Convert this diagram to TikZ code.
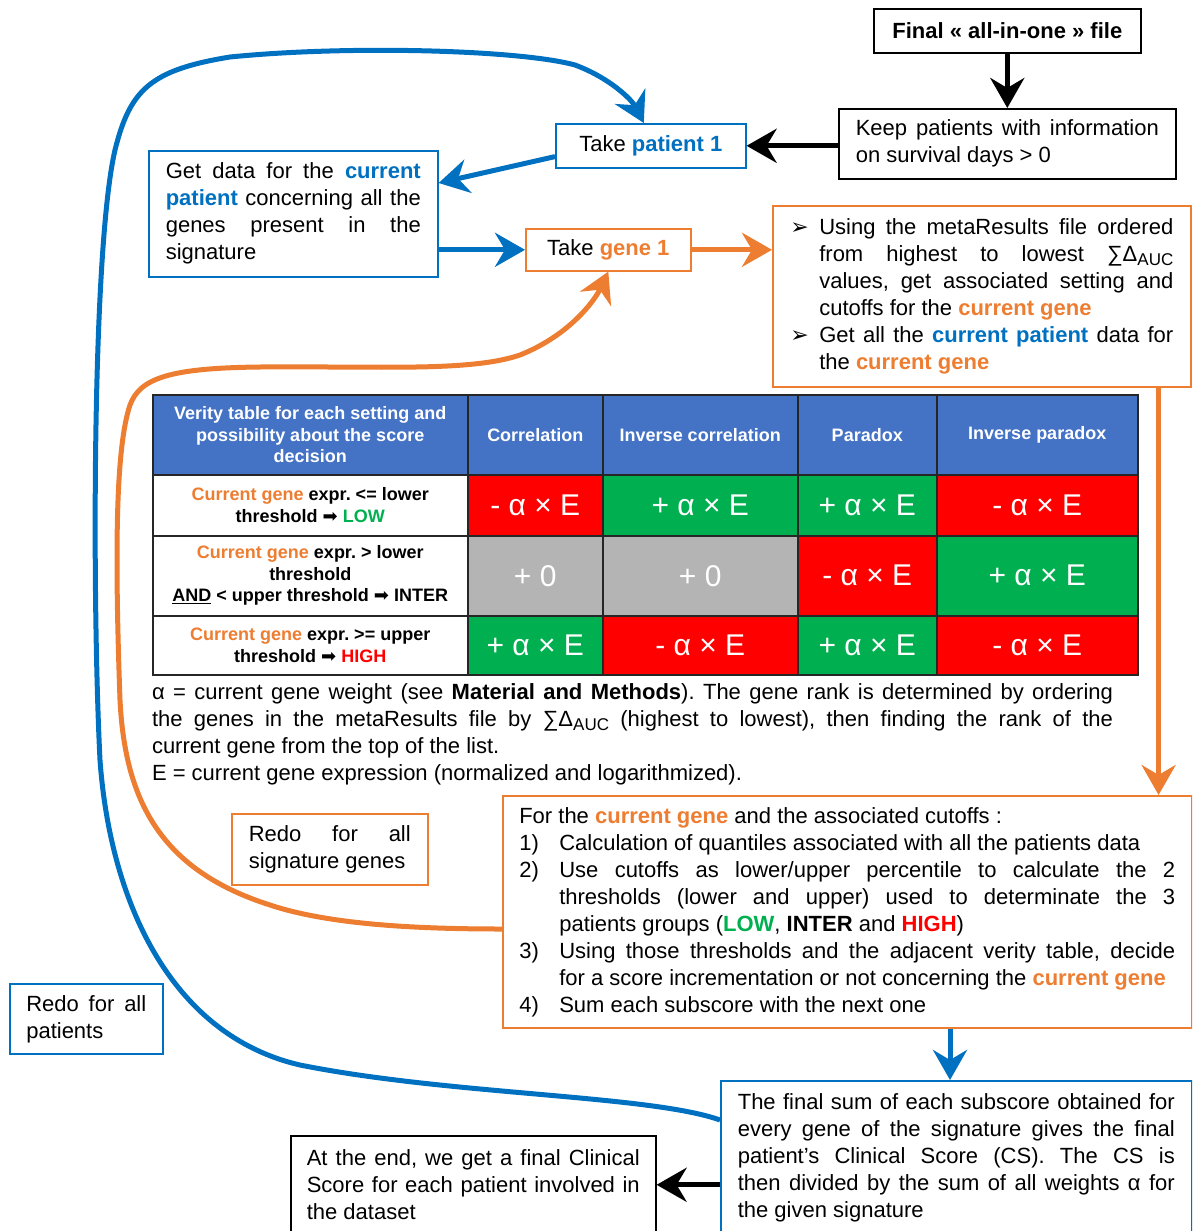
\documentclass[tikz,border=0pt]{standalone}
\usepackage{fontspec}
\setmainfont{Liberation Sans}
\newfontfamily\dingfont{DejaVu Sans}
\usetikzlibrary{arrows.meta,calc}
\frenchspacing

\definecolor{boxblue}{RGB}{0,112,192}
\definecolor{boxorange}{RGB}{237,125,49}
\definecolor{headblue}{RGB}{68,114,196}
\definecolor{tabred}{RGB}{255,0,0}
\definecolor{tabgreen}{RGB}{0,176,80}
\definecolor{tabgrey}{RGB}{180,180,180}

\newcommand\bodyfont{\fontsize{22}{27}\selectfont}
\newcommand\tabfont{\fontsize{18}{21.5}\selectfont\bfseries}
\newcommand\cellfont{\fontsize{30}{36}\selectfont}
\newcommand\curpat[1]{\textcolor{boxblue}{\textbf{#1}}}
\newcommand\curgene[1]{\textcolor{boxorange}{\textbf{#1}}}
\newcommand\auc{\raisebox{-4pt}{\fontsize{17}{17}\selectfont AUC}}
\newcommand\numitem[1]{\hangindent=40pt\hangafter=1\noindent\makebox[40pt][l]{#1}}
\newcommand\bulitem{\hangindent=29pt\hangafter=1\noindent\makebox[29pt][l]{\dingfont ➢}}
\newcommand\thenarrow{{\dingfont\mdseries ➡}}

\tikzset{
  box/.style={draw, line width=1.6pt, anchor=north west, inner ysep=0pt, font=\bodyfont},
  bluebox/.style={box, draw=boxblue},
  orangebox/.style={box, draw=boxorange},
  blackbox/.style={box, draw=black},
  cell/.style={draw=black!85, line width=1.5pt, anchor=north west, inner sep=0pt, text=white, font=\cellfont},
  headcell/.style={cell, fill=headblue, font=\tabfont, align=center},
  labelcell/.style={cell, fill=white, text=black, font=\tabfont, align=center},
  flowtip/.style={-{Stealth[length=30pt,width=34pt,inset=10pt]}},
  blackflow/.style={draw=black, line width=5pt, flowtip},
  blueflow/.style={draw=boxblue, line width=5pt, flowtip},
  orangeflow/.style={draw=boxorange, line width=5pt, flowtip},
}

\begin{document}
\begin{tikzpicture}[x=1pt,y=-1pt]
  \useasboundingbox (0,0) rectangle (1192,1231);
  \clip (0,0) rectangle (1192,1231);

  % boxes of the flow
  \node[blackbox, font=\bodyfont\bfseries, minimum width=267pt, minimum height=44pt] (final) at (873,8) {Final « all-in-one » file};
  \node[blackbox, text width=303pt, inner xsep=17pt, minimum height=70pt, align=justify] (keep) at (838,108)
    {Keep patients with information\linebreak on survival days > 0};
  \node[bluebox, minimum width=190pt, minimum height=44pt] (patient) at (555,123) {Take \curpat{patient 1}};
  \node[bluebox, text width=255pt, inner xsep=17pt, minimum height=126pt, align=justify] (data) at (148,150)
    {Get data for the \curpat{current}\linebreak \curpat{patient} concerning all the\linebreak genes present in the\linebreak signature};
  \node[orangebox, minimum width=165pt, minimum height=42pt] (gene) at (525,228) {Take \curgene{gene 1}};
  \node[orangebox, text width=383pt, inner xsep=17.5pt, minimum height=181pt, align=justify] (setting) at (772,205)
    {\bulitem Using the metaResults file ordered\linebreak from highest to lowest ∑Δ\auc\linebreak values, get associated setting and\linebreak cutoffs for the \curgene{current gene}\par
     \bulitem Get all the \curpat{current patient} data for\linebreak the \curgene{current gene}\par};

  % verity table
  \node[headcell, minimum width=315pt, minimum height=80pt] (verity) at (152,394) {Verity table for each setting and\\possibility about the score\\decision};
  \node[headcell, minimum width=135pt, minimum height=80pt] (corr) at (467,394) {Correlation};
  \node[headcell, minimum width=195pt, minimum height=80pt] (invcorr) at (602,394) {Inverse correlation};
  \node[headcell, minimum width=139pt, minimum height=80pt] (parad) at (797,394) {Paradox};
  \node[headcell, minimum width=201pt, minimum height=80pt] (invparad) at (936,394) {Inverse paradox};

  \node[labelcell, minimum width=315pt, minimum height=61pt] (low) at (152,474)
    {\textcolor{boxorange}{Current gene} expr. <= lower\\threshold \thenarrow{} \textcolor{tabgreen}{LOW}};
  \node[cell, fill=tabred, minimum width=135pt, minimum height=61pt] (low1) at (467,474) {- α × E};
  \node[cell, fill=tabgreen, minimum width=195pt, minimum height=61pt] (low2) at (602,474) {+ α × E};
  \node[cell, fill=tabgreen, minimum width=139pt, minimum height=61pt] (low3) at (797,474) {+ α × E};
  \node[cell, fill=tabred, minimum width=201pt, minimum height=61pt] (low4) at (936,474) {- α × E};

  \node[labelcell, minimum width=315pt, minimum height=80pt] (inter) at (152,535)
    {\textcolor{boxorange}{Current gene} expr. > lower\\threshold\\\underline{AND} < upper threshold \thenarrow{} INTER};
  \node[cell, fill=tabgrey, minimum width=135pt, minimum height=80pt] (inter1) at (467,535) {+ 0};
  \node[cell, fill=tabgrey, minimum width=195pt, minimum height=80pt] (inter2) at (602,535) {+ 0};
  \node[cell, fill=tabred, minimum width=139pt, minimum height=80pt] (inter3) at (797,535) {- α × E};
  \node[cell, fill=tabgreen, minimum width=201pt, minimum height=80pt] (inter4) at (936,535) {+ α × E};

  \node[labelcell, minimum width=315pt, minimum height=59pt] (high) at (152,615)
    {\textcolor{boxorange}{Current gene} expr. >= upper\\threshold \thenarrow{} \textcolor{tabred}{HIGH}};
  \node[cell, fill=tabgreen, minimum width=135pt, minimum height=59pt] (high1) at (467,615) {+ α × E};
  \node[cell, fill=tabred, minimum width=195pt, minimum height=59pt] (high2) at (602,615) {- α × E};
  \node[cell, fill=tabgreen, minimum width=139pt, minimum height=59pt] (high3) at (797,615) {+ α × E};
  \node[cell, fill=tabred, minimum width=201pt, minimum height=59pt] (high4) at (936,615) {- α × E};

  \node[text width=961pt, inner sep=0pt, align=justify, font=\bodyfont] (legend) at (632.5,734.5)
    {α = current gene weight (see \textbf{Material and Methods}). The gene rank is determined by ordering\linebreak the genes in the metaResults file by ∑Δ\auc{} (highest to lowest), then finding the rank of the\linebreak current gene from the top of the list.\par
     E = current gene expression (normalized and logarithmized).};

  % lower boxes
  \node[orangebox, text width=162pt, inner xsep=17pt, minimum height=71pt, align=justify] (redogenes) at (231,813)
    {Redo for all\linebreak signature genes};
  \node[orangebox, text width=656pt, inner xsep=16.5pt, minimum height=232pt, align=justify] (cutoffs) at (502,795)
    {For the \curgene{current gene} and the associated cutoffs :\par
     \numitem{1)}Calculation of quantiles associated with all the patients data\par
     \numitem{2)}Use cutoffs as lower/upper percentile to calculate the 2\linebreak thresholds (lower and upper) used to determinate the 3\linebreak patients groups (\textbf{\textcolor{tabgreen}{LOW}}, \textbf{INTER} and \textbf{\textcolor{tabred}{HIGH}})\par
     \numitem{3)}Using those thresholds and the adjacent verity table, decide\linebreak for a score incrementation or not concerning the \curgene{current gene}\par
     \numitem{4)}Sum each subscore with the next one\par};
  \node[bluebox, text width=120pt, inner xsep=16.5pt, minimum height=70pt, align=justify] (redopatients) at (9,983)
    {Redo for all\linebreak patients};
  \node[bluebox, text width=437pt, inner xsep=17pt, minimum height=154pt, align=justify] (finalsum) at (720,1080)
    {The final sum of each subscore obtained for\linebreak every gene of the signature gives the final\linebreak patient’s Clinical Score (CS). The CS is\linebreak then divided by the sum of all weights α for\linebreak the given signature};
  \node[blackbox, text width=333pt, inner xsep=16pt, minimum height=98pt, align=justify] (atend) at (290,1135)
    {At the end, we get a final Clinical\linebreak Score for each patient involved in\linebreak the dataset};

  % straight arrows
  \draw[blackflow] (final) -- (keep);
  \draw[blackflow] (keep.west |- patient.east) -- (patient.east);
  \draw[blueflow] ($(patient.south west)+(0,-12)$) -- ($(data.north east)+(0,33)$);
  \draw[blueflow] (data.east |- gene.west) -- (gene.west);
  \draw[orangeflow] (gene.east) -- (gene.east -| setting.west);
  \draw[orangeflow] ($(setting.south east)+(-33,0)$) -- ($(cutoffs.north east)+(-34,0)$);
  \coordinate (sumin) at ($(cutoffs.south west)+(448,0)$);
  \draw[blueflow] (sumin) -- (sumin |- finalsum.north);
  \draw[blackflow] (finalsum.west |- atend.east) -- (atend.east);

  % loops back
  \draw[blueflow] ($(finalsum.north west)+(0,40)$)
    .. controls (650,1095) and (450,1095) .. (300,1065)
    .. controls (170,1035) and (110,900) .. (100,760)
    .. controls (92,600) and (92,250) .. (115,150)
    .. controls (130,90) and (150,70) .. (230,57)
    .. controls (350,45) and (520,50) .. (575,65)
    .. controls (610,78) and (632,100) .. ($(patient.north)+(-7,0)$);
  \draw[orangeflow] ($(cutoffs.north west)+(0,134)$)
    .. controls (420,929) and (330,925) .. (270,905)
    .. controls (160,870) and (125,800) .. (120,700)
    .. controls (115,560) and (115,450) .. (130,405)
    .. controls (140,378) and (170,368) .. (260,367)
    .. controls (380,366) and (470,372) .. (520,355)
    .. controls (570,335) and (595,300) .. (gene.south);
\end{tikzpicture}
\end{document}
